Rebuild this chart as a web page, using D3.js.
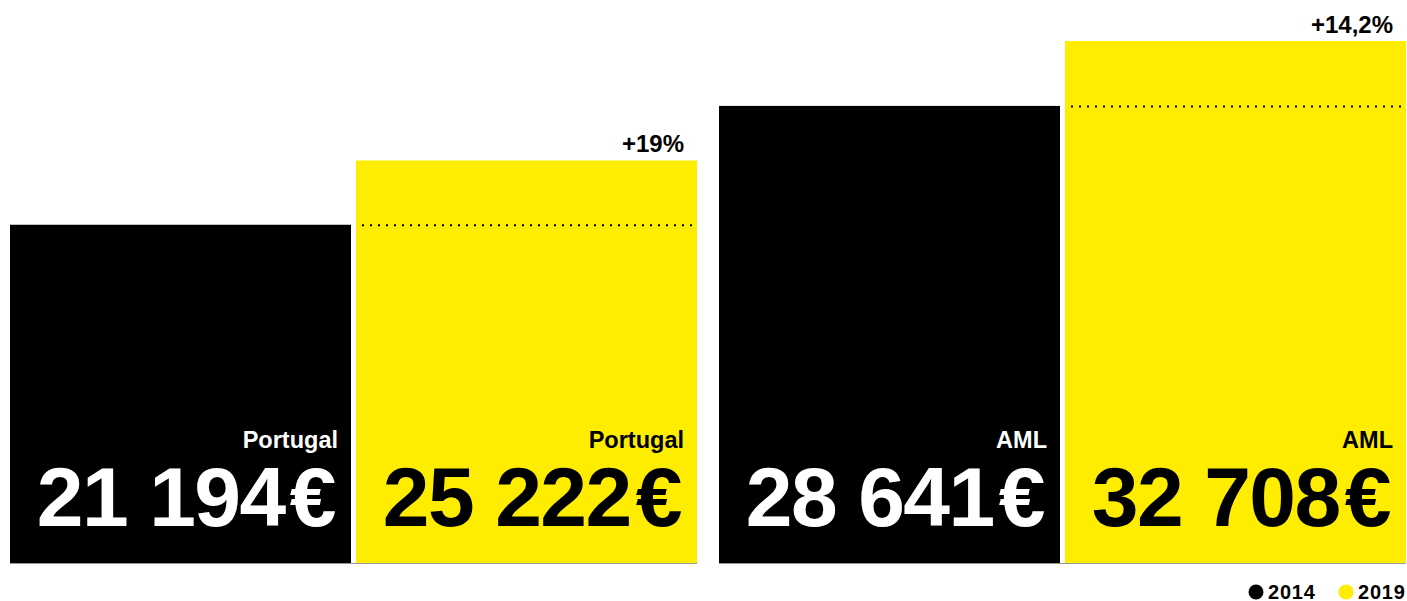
<!DOCTYPE html>
<html>
<head>
<meta charset="utf-8">
<script src="https://cdn.jsdelivr.net/npm/d3@7"></script>
<style>
    html, body { margin: 0; padding: 0; background: #fff; }
    svg { display: block; font-family: 'Liberation Sans', Arial, sans-serif; font-weight: bold; }
</style>
</head>
<body>
<div id="chart"></div>
<script>
    const regions = ['Portugal', 'AML'];
    const years = ['2014', '2019'];
    const values2014 = [21194, 28641];
    const values2019 = [25222, 32708];
    const changeLabels = ['+19%', '+14,2%'];
    const colors = ['#000000', '#ffed00'];
    const textColors = ['#ffffff', '#000000'];

    const width = 1407;
    const height = 601;
    const margins = { top: 0, bottom: 37, left: 10, right: 1 };

    const locale = d3.formatLocale({
        decimal: ',',
        thousands: ' ',
        grouping: [3],
        currency: ['', '€']
    });
    const fmt = locale.format(',.0f');

    function layout() {
        const svg = d3.select('#chart')
            .append('svg')
            .attr('width', width)
            .attr('height', height);
        return svg;
    }

    function chart() {
        const svg = layout();

        const data = regions.map((r, i) => ({
            region: r,
            bars: [
                { year: years[0], value: values2014[i], idx: 0 },
                { year: years[1], value: values2019[i], idx: 1 }
            ],
            change: changeLabels[i]
        }));

        //scales
        const x0 = d3.scaleBand()
            .domain(regions)
            .range([margins.left, width - margins.right])
            .paddingInner(22 / 709)
            .paddingOuter(0);

        const x1 = d3.scaleBand()
            .domain(years)
            .range([0, x0.bandwidth()])
            .paddingInner(5 / 346)
            .paddingOuter(0);

        const baseline = height - margins.bottom - 1;
        const y = d3.scaleLinear()
            .domain([0, 32708])
            .range([baseline, 41]);

        //groups
        const groups = svg.selectAll('g.group')
            .data(data)
            .join('g')
            .classed('group', true)
            .attr('transform', d => `translate(${x0(d.region)},0)`);

        //bars
        const bars = groups.selectAll('g.bar')
            .data(d => d.bars.map(b => Object.assign({ region: d.region }, b)))
            .join('g')
            .classed('bar', true)
            .attr('transform', d => `translate(${x1(d.year)},0)`);

        bars.append('rect')
            .attr('x', 0)
            .attr('y', d => y(d.value))
            .attr('width', x1.bandwidth())
            .attr('height', d => baseline - y(d.value))
            .attr('fill', d => colors[d.idx]);

        //region label
        bars.append('text')
            .attr('x', x1.bandwidth() - 13)
            .attr('y', 448)
            .attr('text-anchor', 'end')
            .style('font-size', '23.5px')
            .style('fill', d => textColors[d.idx])
            .text(d => d.region);

        //value label
        const value = bars.append('text')
            .attr('x', x1.bandwidth() - 16)
            .attr('y', 526)
            .attr('text-anchor', 'end')
            .style('font-size', '84px')
            .style('letter-spacing', '-1.5px')
            .style('fill', d => textColors[d.idx]);
        value.append('tspan')
            .text(d => fmt(d.value));
        value.append('tspan')
            .attr('dx', 5)
            .text('€');

        //dotted reference line of 2014 inside 2019 bar
        groups.append('line')
            .attr('x1', d => x1(years[1]) + 6)
            .attr('x2', d => x1(years[1]) + x1.bandwidth() - 5)
            .attr('y1', d => y(d.bars[0].value) + 0.5)
            .attr('y2', d => y(d.bars[0].value) + 0.5)
            .attr('stroke', '#000')
            .attr('stroke-width', 2)
            .attr('stroke-dasharray', '2,6');

        //change label
        groups.append('text')
            .attr('x', x1(years[1]) + x1.bandwidth() - 13)
            .attr('y', d => y(d.bars[1].value) - 8)
            .attr('text-anchor', 'end')
            .style('font-size', '24px')
            .style('fill', '#000')
            .text(d => d.change);

        //baseline
        groups.append('line')
            .attr('x1', 0)
            .attr('x2', x0.bandwidth())
            .attr('y1', baseline + 0.5)
            .attr('y2', baseline + 0.5)
            .attr('stroke', '#999')
            .attr('stroke-width', 1);

        //legend
        const legend = svg.append('g')
            .attr('transform', `translate(0,${height - 9})`);
        const legendX = [1256, 1346];
        years.forEach((yr, i) => {
            legend.append('circle')
                .attr('cx', legendX[i])
                .attr('cy', 0)
                .attr('r', 7.5)
                .attr('fill', colors[i]);
            legend.append('text')
                .attr('x', legendX[i] + 12)
                .attr('y', 6.5)
                .style('font-size', '20px')
                .style('letter-spacing', '0.8px')
                .style('fill', '#000')
                .text(yr);
        });
    }

    chart();
</script>
</body>
</html>
